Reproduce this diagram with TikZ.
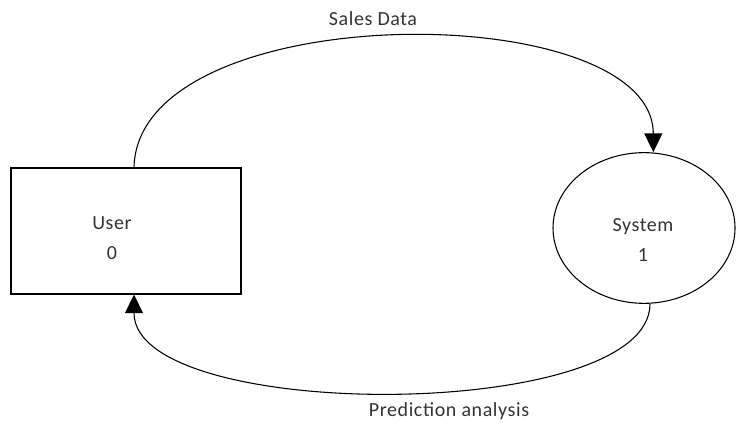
\documentclass[tikz,border=0pt]{standalone}
\usepackage{fontspec}
\setmainfont{Carlito}[LetterSpace=3]
\usetikzlibrary{arrows.meta,shapes.geometric}
\tikzset{>={Triangle[width=13.5pt,length=14pt]}}
\tikzset{
  entity/.style={draw,line width=0.8pt,minimum width=172.5pt,minimum height=94.5pt,inner sep=0pt},
  process/.style={draw,ellipse,line width=0.8pt,minimum width=136.5pt,minimum height=113pt,inner sep=0pt},
  flow/.style={line width=0.8pt,->},
  lbl/.style={font=\fontsize{15}{18}\selectfont,text=black!80}
}

\begin{document}
\begin{tikzpicture}[x=0.75pt,y=-0.75pt]
  \useasboundingbox (0,0) rectangle (737,423);
  \node[entity] (user) at (126,231) {};
  \node[lbl,align=center] (usertext) at (112,238) {User\\[5pt]0};
  \node[process] (sys) at (644,228) {};
  \node[lbl,align=center] (systext) at (643,240) {System\\[5pt]1};
  \draw[flow] ([xshift=6pt]user.north) .. controls (138,-4) and (653,-4) .. ([xshift=7pt]sys.north);
  \draw[flow] ([xshift=4.5pt]sys.south) .. controls (650,423) and (134,423) .. ([xshift=6pt]user.south);
  \node[lbl] (sales) at (373,19) {Sales Data};
  \node[lbl] (pred) at (449,411) {Prediction analysis};
\end{tikzpicture}
\end{document}
